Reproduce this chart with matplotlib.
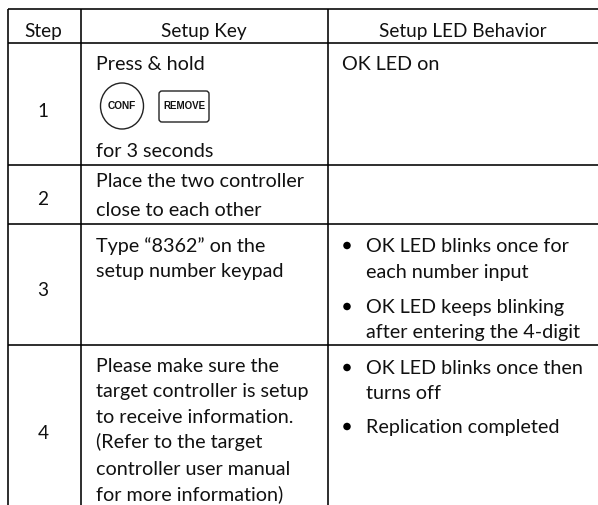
import matplotlib
matplotlib.use("Agg")
import matplotlib.pyplot as plt
from matplotlib.patches import Ellipse, FancyBboxPatch

plt.rcParams['font.family'] = ['Lato', 'DejaVu Sans']

W, H = 598, 505
INK = '#111111'
FS_HEAD = 13.7
FS = 14.2

headers = ["Step", "Setup Key", "Setup LED Behavior"]
header_x = [43, 204, 463]
steps = ["1", "2", "3", "4"]
step_y = [110, 198, 289, 432]

h_lines = [9, 43, 164.5, 223.5, 345]
v_lines = [7.5, 81, 328]

key_lines = [
    ("Press & hold", 70), ("for 3 seconds", 157),
    ("Place the two controller", 187), ("close to each other", 216),
    ("Type \u201c8362\u201d on the", 252), ("setup number keypad", 277),
    ("Please make sure the", 372), ("target controller is setup", 397),
    ("to receive information.", 423), ("(Refer to the target", 448),
    ("controller user manual", 475), ("for more information)", 500),
]
led_plain = [("OK LED on", 70)]
led_lines = [
    ("OK LED blinks once for", 252, True), ("each number input", 278, False),
    ("OK LED keeps blinking", 313, True), ("after entering the 4-digit", 338, False),
    ("OK LED blinks once then", 374, True), ("turns off", 399, False),
    ("Replication completed", 433, True),
]

fig = plt.figure(figsize=(W / 100, H / 100), dpi=100, facecolor='white')
ax = fig.add_axes([0, 0, 1, 1])
ax.set_xlim(0, W)
ax.set_ylim(H, 0)
ax.axis('off')

LW = 1.15
for y in h_lines:
    ax.plot([v_lines[0], W], [y, y], color='black', lw=LW, solid_capstyle='butt')
for x in v_lines:
    ax.plot([x, x], [h_lines[0], H], color='black', lw=LW, solid_capstyle='butt')

for x, t in zip(header_x, headers):
    ax.text(x, 37, t, ha='center', va='baseline', fontsize=FS_HEAD, color=INK)
for t, y in zip(steps, step_y):
    ax.text(43, y + 7, t, ha='center', va='baseline', fontsize=FS_HEAD, color=INK)
for t, y in key_lines:
    ax.text(96, y, t, ha='left', va='baseline', fontsize=FS, color=INK)
for t, y in led_plain:
    ax.text(342, y, t, ha='left', va='baseline', fontsize=FS, color=INK)
for t, y, bullet in led_lines:
    ax.text(366, y, t, ha='left', va='baseline', fontsize=FS, color=INK)
    if bullet:
        ax.add_patch(Ellipse((347, y - 6.5), 7.5, 7.5, fc='black', ec='none'))

ax.add_patch(Ellipse((122, 106), 43, 46, fc='white', ec='#222222', lw=1.0))
ax.text(122, 106, "CONF", ha='center', va='center', fontsize=7.3, fontweight='bold',
        family=['Liberation Sans'], color=INK)
ax.add_patch(FancyBboxPatch((161, 93), 46, 27, boxstyle="round,pad=2,rounding_size=3",
                            fc='white', ec='#222222', lw=1.0))
ax.text(184, 106, "REMOVE", ha='center', va='center', fontsize=7.0, fontweight='bold',
        family=['Liberation Sans'], color=INK)

fig.savefig('out.png', dpi=100, facecolor='white')
